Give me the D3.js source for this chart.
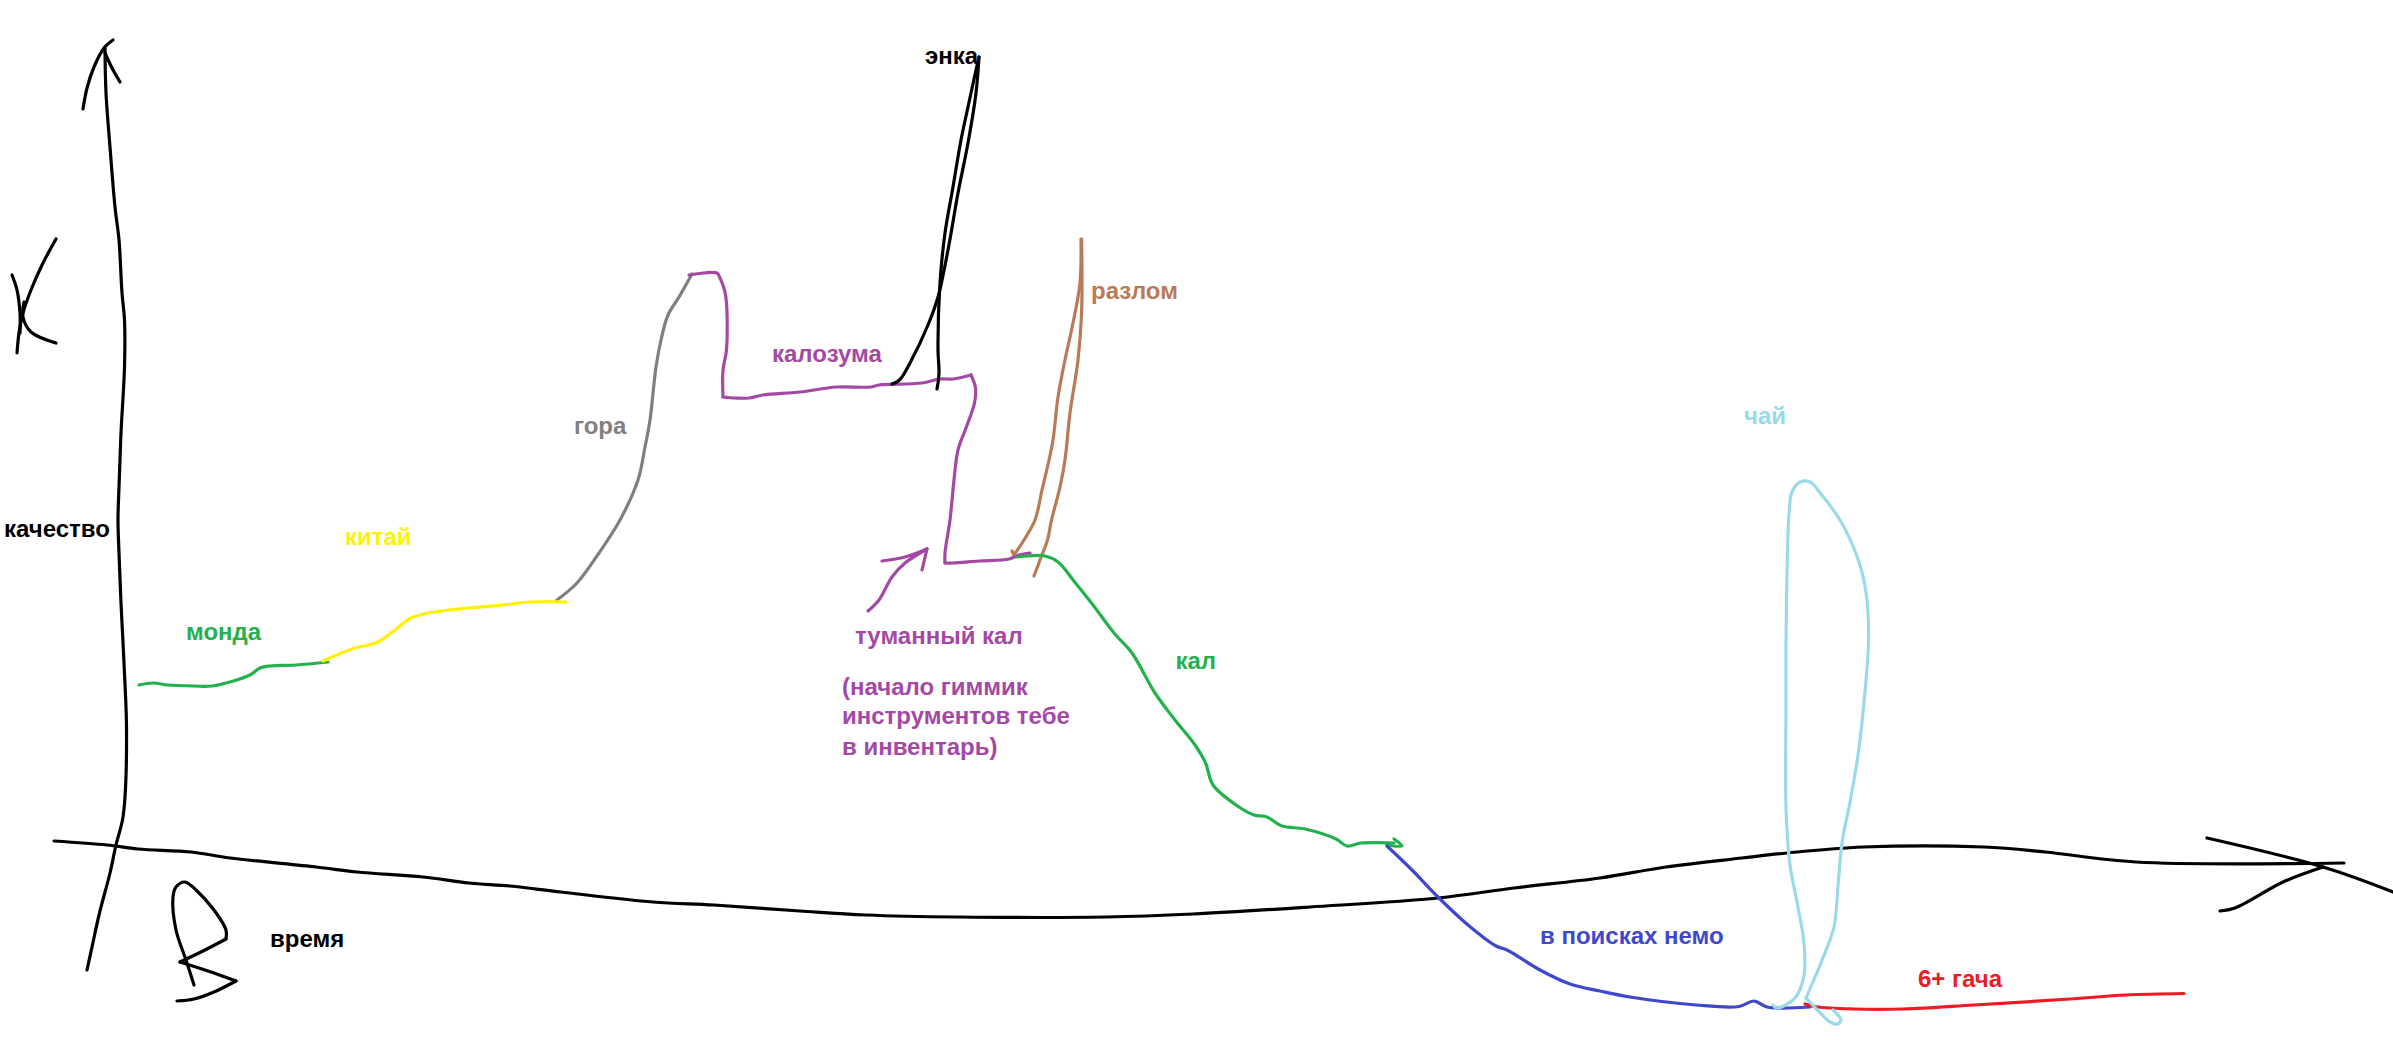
<!DOCTYPE html>
<html>
<head>
<meta charset="utf-8">
<script src="https://cdn.jsdelivr.net/npm/d3@7"></script>
<style>
  body { margin: 0; background: #fff; }
  svg { display: block; }
</style>
</head>
<body>
<svg id="chart" width="2393" height="1040"></svg>
<script>
// every stroke as [x, y] pairs
// strokes with a sharp corner are split at the corner so the curve doesn't round it
const yAxisLine = [[105,48],[106,93],[110,147],[115,207],[119,240],[122,293],[124.5,320],[124.5,367],[121,433],[119,487],[118,520],[119,553],[121,603],[124,663],[126.5,727],[125,797],[122.5,820],[116,845],[110,873],[99.5,913],[92,947],[87,970]];
const yArrowLeft = [[83,109],[87,88],[94,67],[104,48],[113,40]];
const yArrowRight = [[105,53],[112,68],[120,82]];
const letterK1 = [[56,239],[43,263],[31,290],[23,313],[19,333],[17,353]];
const letterK2 = [[12,275],[17,290],[20,313],[20,333]];
const letterK3 = [[24,302],[23,317],[31,332],[56,343]];

const xAxisLine = [[54,841],[107,845],[138,849],[191,852],[230,858],[316,867],[357,872],[423,877],[469,883],[510,886],[561,892],[653,902],[714,905],[800,911],[866,915],[958,917],[1106,917],[1193,914],[1310,907],[1438,898],[1514,888],[1600,878],[1666,867],[1742,858],[1787,853],[1863,847],[1984,847],[2045,852],[2136,862],[2344,863]];
const xArrowTop = [[2207,838],[2323,867],[2393,892]];
const xArrowBottom = [[2220,911],[2235,908],[2283,882],[2323,867]];
const letterV1 = [[194,985],[186,960],[176,930],[173,897],[176,887],[185,882],[196,890],[214,910],[226,930],[226,939]];
const letterV2 = [[226,939],[203,951],[180,962]];
const letterV3 = [[180,962],[208,971],[236,981]];
const letterV4 = [[236,981],[214,992],[194,999],[177,1001]];

const monda = [[139,685],[153,683],[168,685],[194,686],[212,686],[250,675],[260,668],[270,666],[296,665],[328,662]];
const china = [[323,661],[352,649],[378,642],[395,630],[411,618],[434,612],[469,608],[503,605],[531,602],[566,602]];
const gora = [[557,600],[577,583],[599,553],[620,520],[638,480],[645,447],[650,420],[656,367],[661,340],[668,315],[679,297],[692,274]];
const kalozuma1 = [[689,275],[704,273],[717,273],[720,278],[724.5,290],[726.5,303],[726.5,350],[723,370],[723,397]];
const kalozuma2 = [[723,397],[735,398],[749,398],[763,395],[800,392],[836,387],[871,387],[879,385],[922,383],[940,379],[953,379],[971,375]];
const kalozuma3 = [[971,375],[975.5,388],[974.5,403],[966,428],[958,450],[954,480],[950,520],[945,553],[945,563]];
const fog = [[945,563],[953,563],[979,561],[1009,559],[1019,555],[1030,553]];
const fogArrow = [[868,611],[879,600],[892,577],[905,563],[927,549]];
const fogArrowTop = [[882,561],[905,557],[927,549]];
const fogArrowSide = [[927,549],[922,570]];
const enka1 = [[892,384],[899.5,380],[910,363],[928,325],[938,297],[948,250],[958,193],[968,143],[976,93],[979,57]];
const enka2 = [[979,57],[976,70],[968,107],[961,140],[953,187],[945,233],[940,283],[938,350],[939,373],[937,389]];
const razlomLeft = [[1081,239],[1080,283],[1073,323],[1065,360],[1058,397],[1052.5,443],[1042,490],[1035,520],[1024,540],[1014,555]];
const razlomHook = [[1014,555],[1012,551]];
const razlomRight = [[1081.6,239],[1081.6,313],[1078,360],[1070,413],[1065,460],[1060,487],[1051.5,520],[1047.5,540],[1040,560],[1034,576]];
const kal = [[1017,557],[1045,556],[1058,562],[1075.5,583],[1093,605],[1114,633],[1132,653],[1155,693],[1175,720],[1195,745],[1205.6,763],[1213,785],[1239,807],[1254,815],[1267,817],[1282,826],[1305,829],[1336,839],[1347,846],[1361,843],[1394,843]];
const kalTip = [[1394,839],[1402,846],[1387,845]];
const nemo = [[1387,846],[1412,870],[1438,897],[1468,925],[1496,946],[1507,950],[1540,970],[1570,984],[1600,991],[1630,997],[1696,1005],[1739,1006.5],[1754,1001],[1767,1007],[1810,1007]];
const chai1 = [[1773,1005],[1777,1008],[1795,998],[1804,975.5],[1804,943],[1797,902],[1790,865],[1786,808],[1786,702],[1786,645],[1789,514],[1792,492],[1800,482],[1810,482],[1822.5,496],[1840,520],[1858,559],[1866,592],[1868.6,637],[1865.5,686],[1858,755],[1850,802],[1842,843],[1838,886],[1834,927],[1822.5,959],[1806,998]];
const chai2 = [[1806,998],[1817.5,1010],[1830,1022],[1837,1024],[1841,1020],[1833,1010]];
const gacha = [[1805,1004],[1817.5,1007],[1853,1009],[1903.5,1009],[1974,1005],[2070,999],[2126,995],[2184,993.5]];

const black = '#000000', green = '#22b14c', yellow = '#fff200', gray = '#7f7f7f',
  purple = '#a349a4', brown = '#b97a57', blue = '#3f48cc', lightBlue = '#99d9ea', red = '#ed1c24';

const strokes = [
  [yAxisLine, black], [yArrowLeft, black], [yArrowRight, black],
  [letterK1, black], [letterK2, black], [letterK3, black],
  [xAxisLine, black], [xArrowTop, black], [xArrowBottom, black],
  [letterV1, black], [letterV2, black], [letterV3, black], [letterV4, black],
  [gora, gray], [monda, green], [china, yellow],
  [razlomLeft, brown], [razlomHook, brown], [razlomRight, brown],
  [kalozuma1, purple], [kalozuma2, purple], [kalozuma3, purple], [fog, purple],
  [fogArrow, purple], [fogArrowTop, purple], [fogArrowSide, purple],
  [enka1, black], [enka2, black], [kal, green], [kalTip, green],
  [nemo, blue], [gacha, red], [chai1, lightBlue], [chai2, lightBlue]
];

const labelText = ['качество', 'время', 'монда', 'китай', 'гора', 'калозума', 'энка', 'разлом',
  'туманный кал', '(начало гиммик', 'инструментов тебе', 'в инвентарь)', 'кал', 'в поисках немо', '6+ гача', 'чай'];
const labelX = [4, 270, 186, 345, 574, 772, 925, 1091, 855, 842, 842, 842, 1175.5, 1540, 1918, 1744];
const labelY = [537, 947, 640, 545, 434, 362, 64, 299, 644, 695, 724, 755, 669, 944, 987, 424];
const labelColor = [black, black, green, yellow, gray, purple, black, brown, purple, purple, purple, purple, green, blue, red, lightBlue];

const svg = d3.select('#chart');
const width = +svg.attr('width');
const height = +svg.attr('height');

const xScale = d3.scaleLinear().domain([0, 2393]).range([0, width]);
const yScale = d3.scaleLinear().domain([0, 1040]).range([0, height]);

const line = d3.line()
  .x(d => xScale(d[0]))
  .y(d => yScale(d[1]))
  .curve(d3.curveCatmullRom.alpha(0.5));

svg.selectAll('path.stroke').data(strokes)
  .enter().append('path')
  .attr('class', 'stroke')
  .attr('d', d => line(d[0]))
  .attr('fill', 'none')
  .attr('stroke', d => d[1])
  .attr('stroke-width', 3.2)
  .attr('stroke-linecap', 'round')
  .attr('stroke-linejoin', 'round');

svg.selectAll('text').data(labelText)
  .enter().append('text')
  .attr('x', (d, i) => xScale(labelX[i]))
  .attr('y', (d, i) => yScale(labelY[i]))
  .attr('fill', (d, i) => labelColor[i])
  .attr('font-family', '"Liberation Sans", sans-serif')
  .attr('font-weight', 'bold')
  .attr('font-size', '24px')
  .text(d => d);
</script>
</body>
</html>
